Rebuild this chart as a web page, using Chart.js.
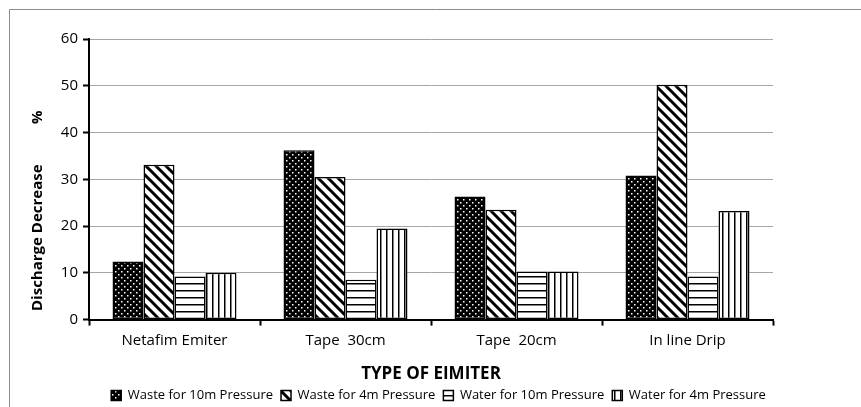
<!DOCTYPE html>
<html>
<head>
<meta charset="utf-8">
<script src="https://cdn.jsdelivr.net/npm/chart.js@4/dist/chart.umd.min.js"></script>
<style>
html,body{margin:0;padding:0;background:#fff;}
#wrap{width:861px;height:407px;position:relative;}
</style>
</head>
<body>
<div id="wrap"><canvas id="c" width="861" height="407"></canvas></div>
<script>
const categories = ["Netafim Emiter", "Tape  30cm", "Tape  20cm", "In line Drip"];
const seriesNames = ["Waste for 10m Pressure", "Waste for 4m Pressure", "Water for 10m Pressure", "Water for 4m Pressure"];
const waste10m = [12.4, 36.2, 26.3, 30.8];
const waste4m = [33.1, 30.5, 23.5, 50.2];
const water10m = [9.2, 8.5, 10.3, 9.2];
const water4m = [10.0, 19.5, 10.3, 23.2];
const yTicks = [0, 10, 20, 30, 40, 50, 60];
const xTitle = "TYPE OF EIMITER";
const yTitleMain = "Discharge Decrease";
const yTitleUnit = "%";

const FONT = "'Open Sans', sans-serif";

function makePattern(kind) {
  const t = document.createElement('canvas');
  const c = t.getContext('2d');
  if (kind === 'dots') {
    t.width = 6; t.height = 6;
    c.fillStyle = '#000'; c.fillRect(0, 0, 6, 6);
    c.fillStyle = '#fff';
    c.fillRect(1, 1, 1.5, 1.5);
    c.fillRect(4, 4, 1.5, 1.5);
  } else if (kind === 'diag') {
    t.width = 10; t.height = 10;
    c.fillStyle = '#fff'; c.fillRect(0, 0, 10, 10);
    c.strokeStyle = '#000'; c.lineWidth = 3;
    c.beginPath();
    c.moveTo(-5, -5); c.lineTo(15, 15);
    c.moveTo(-5, 5); c.lineTo(5, 15);
    c.moveTo(5, -5); c.lineTo(15, 5);
    c.stroke();
  } else if (kind === 'horiz') {
    t.width = 7; t.height = 7;
    c.fillStyle = '#fff'; c.fillRect(0, 0, 7, 7);
    c.fillStyle = '#000'; c.fillRect(0, 3, 7, 1.5);
  } else if (kind === 'vert') {
    t.width = 6; t.height = 6;
    c.fillStyle = '#fff'; c.fillRect(0, 0, 6, 6);
    c.fillStyle = '#000'; c.fillRect(2, 0, 1.5, 6);
  }
  return document.getElementById('c').getContext('2d').createPattern(t, 'repeat');
}

const patterns = [makePattern('dots'), makePattern('diag'), makePattern('horiz'), makePattern('vert')];
const seriesData = [waste10m, waste4m, water10m, water4m];

const frameAndTitle = {
  id: 'frameAndTitle',
  afterLayout(chart) {
    const lg = chart.legend;
    if (lg) {
      const dx = 47, dy = -3;
      lg.left += dx; lg.right += dx;
      lg.top += dy; lg.bottom += dy;
    }
  },
  beforeDraw(chart) {
    const ctx = chart.ctx;
    ctx.save();
    ctx.fillStyle = '#fff';
    ctx.fillRect(0, 0, chart.width, chart.height);
    ctx.strokeStyle = '#8c8c8c';
    ctx.lineWidth = 1;
    ctx.beginPath();
    ctx.moveTo(9.5, chart.height);
    ctx.lineTo(9.5, 9.5);
    ctx.lineTo(chart.width, 9.5);
    ctx.stroke();
    ctx.restore();
  },
  afterDraw(chart) {
    const ctx = chart.ctx;
    ctx.save();
    ctx.translate(38, 0);
    ctx.rotate(-Math.PI / 2);
    ctx.fillStyle = '#000';
    ctx.font = "bold 15px " + FONT;
    ctx.textBaseline = 'middle';
    ctx.textAlign = 'left';
    ctx.fillText(yTitleMain, -311, 0);
    ctx.fillText(yTitleUnit, -124, 0);
    ctx.restore();
  }
};

new Chart(document.getElementById('c'), {
  type: 'bar',
  data: {
    labels: categories,
    datasets: seriesNames.map((n, i) => ({
      label: n,
      data: seriesData[i],
      backgroundColor: patterns[i],
      borderColor: '#000',
      borderWidth: 1.5,
      borderSkipped: false,
      categoryPercentage: 0.725,
      barPercentage: 1.0
    }))
  },
  options: {
    responsive: false,
    animation: false,
    devicePixelRatio: 1,
    layout: { padding: { left: 10, right: 88, top: 39, bottom: -8 } },
    plugins: {
      legend: {
        position: 'bottom',
        labels: {
          font: { family: FONT, size: 13 },
          color: '#000',
          boxWidth: 10,
          boxHeight: 10,
          padding: 8
        }
      },
      tooltip: { enabled: false }
    },
    scales: {
      x: {
        grid: { display: true, drawOnChartArea: false, drawTicks: true, tickLength: 6, tickColor: '#000', tickWidth: 2, offset: true },
        border: { display: true, color: '#000', width: 2 },
        ticks: { color: '#000', font: { family: FONT, size: 15 }, padding: 6 },
        title: { display: true, text: xTitle, color: '#000', font: { family: FONT, size: 17, weight: 'bold' }, padding: { top: 8, bottom: 0 } }
      },
      y: {
        min: 0, max: 60,
        afterBuildTicks(scale) { scale.ticks = yTicks.map(v => ({ value: v })); },
        afterFit(scale) { scale.width = 79; },
        grid: { color: '#a6a6a6', lineWidth: 1, drawTicks: true, tickLength: 6, tickColor: '#000', tickWidth: 2 },
        border: { display: true, color: '#000', width: 2 },
        ticks: { color: '#000', font: { family: FONT, size: 15 }, padding: 5 }
      }
    }
  },
  plugins: [frameAndTitle]
});
</script>
</body>
</html>
